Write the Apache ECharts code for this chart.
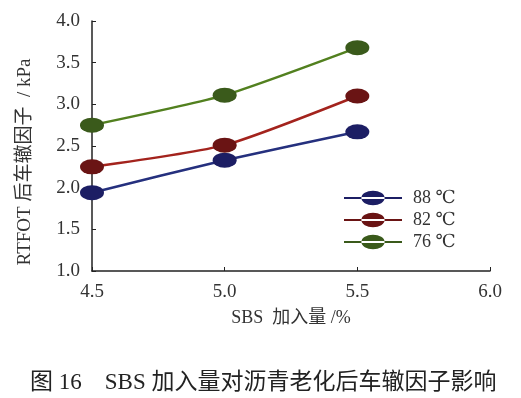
<!DOCTYPE html>
<html>
<head>
<meta charset="utf-8">
<script src="https://cdn.jsdelivr.net/npm/echarts@6/dist/echarts.min.js"></script>
<style>
  html, body { margin: 0; padding: 0; background: #fff; }
  #chart { width: 521px; height: 398px; }
</style>
</head>
<body>
<div id="chart"></div>
<script>
// SBS 加入量 (%)
var sbs = [4.5, 5.0, 5.5];
// 车辙因子 kPa
var t88 = [1.94, 2.33, 2.67];
var t82 = [2.25, 2.51, 3.10];
var t76 = [2.75, 3.11, 3.68];
var names = ['88 ℃', '82 ℃', '76 ℃'];

var serif = '"Liberation Serif", "DejaVu Serif", "Noto Sans CJK SC", serif';
// legend icon: line with an oval in the middle
var legendIcon = 'path://M0 6.5H60V8.5H0Z M18 7.5A12 7.5 0 1 0 42 7.5A12 7.5 0 1 0 18 7.5Z';

function pts(arr) {
    return arr.map(function (v, i) { return [sbs[i], v]; });
}

function line(name, data, lineColor, dotColor) {
    return {
        name: name,
        type: 'line',
        data: pts(data),
        smooth: 0.2,
        symbol: 'circle',
        symbolSize: [24, 15],
        lineStyle: { color: lineColor, width: 2.5 },
        itemStyle: { color: dotColor },
        z: 3
    };
}

var myChart = echarts.init(document.getElementById('chart'));

var option = {
    backgroundColor: '#fff',
    animation: false,
    title: {
        text: '图 16    SBS 加入量对沥青老化后车辙因子影响',
        left: 25,
        top: 366,
        textStyle: {
            color: '#222',
            fontSize: 23,
            fontWeight: 'normal',
            fontFamily: serif
        }
    },
    grid: {
        left: 92,
        right: 31,
        top: 21,
        bottom: 127
    },
    legend: {
        orient: 'vertical',
        left: 339,
        top: 184,
        itemWidth: 58,
        itemHeight: 15,
        itemGap: 4,
        icon: legendIcon,
        data: names,
        textStyle: {
            color: '#333',
            fontSize: 18,
            fontFamily: serif,
            padding: [0, 0, 0, 6]
        }
    },
    xAxis: {
        type: 'value',
        min: 4.5,
        max: 6.0,
        interval: 0.5,
        name: 'SBS  加入量 /%',
        nameLocation: 'middle',
        nameGap: 38,
        nameTextStyle: { color: '#333', fontSize: 18, fontFamily: serif },
        axisLine: { lineStyle: { color: '#222', width: 1.5 } },
        axisTick: { inside: true, length: 4, lineStyle: { color: '#222' } },
        axisLabel: {
            color: '#333',
            fontSize: 19,
            fontFamily: serif,
            margin: 12,
            formatter: function (v) { return v.toFixed(1); }
        },
        splitLine: { show: false }
    },
    yAxis: {
        type: 'value',
        min: 1.0,
        max: 4.0,
        interval: 0.5,
        name: 'RTFOT 后车辙因子  / kPa',
        nameLocation: 'middle',
        nameGap: 57,
        nameTextStyle: {
            color: '#333',
            fontSize: 19,
            fontFamily: serif,
            padding: [0, 32, 0, 0]
        },
        axisLine: { show: true, lineStyle: { color: '#222', width: 1.5 } },
        axisTick: { show: true, inside: true, length: 4, lineStyle: { color: '#222' } },
        axisLabel: {
            color: '#333',
            fontSize: 19,
            fontFamily: serif,
            margin: 12,
            formatter: function (v) { return v.toFixed(1); }
        },
        splitLine: { show: false }
    },
    series: [
        line(names[0], t88, '#25307e', '#1c1e64'),
        line(names[1], t82, '#a3231d', '#6a1414'),
        line(names[2], t76, '#52801f', '#3a5a1b')
    ]
};
myChart.setOption(option);

window.onresize = function () {
    myChart.resize();
};
</script>
</body>
</html>
